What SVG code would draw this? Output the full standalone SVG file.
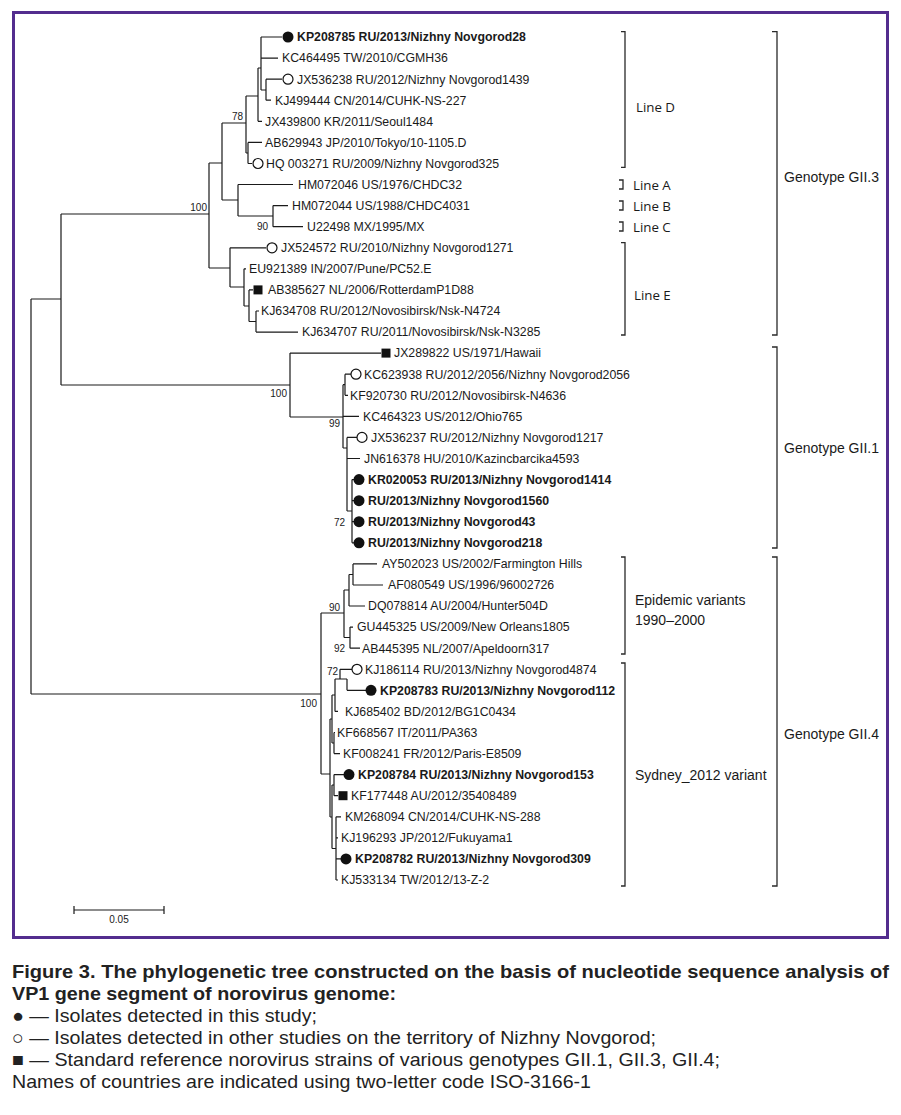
<svg xmlns="http://www.w3.org/2000/svg" width="901" height="1115" viewBox="0 0 901 1115">
<style>
.t{font-family:"Liberation Sans",Arial,sans-serif;font-size:12.3px;fill:#1a1a1a}
.b{font-weight:bold}
.bs{font-family:"Liberation Sans",Arial,sans-serif;font-size:10px;fill:#1a1a1a;text-anchor:end}
.ln{font-family:"Open Sans","Liberation Sans",sans-serif;font-size:13.3px;fill:#1a1a1a}
.gl{font-family:"Liberation Sans",Arial,sans-serif;font-size:14px;fill:#1a1a1a}
.tree{fill:none;stroke:#1a1a1a;stroke-width:1.2}
.br{fill:none;stroke:#2a2a2a;stroke-width:1.3}
.fc{fill:#111}
.oc{fill:#fff;stroke:#111;stroke-width:1.2}
.cap{font-family:"Liberation Sans Narrow","Liberation Sans",Arial,sans-serif;font-size:18.5px;fill:#222}
</style>
<rect x="0" y="0" width="901" height="1115" fill="#fff"/>
<rect id="frame" x="13.5" y="12.5" width="874" height="925" fill="none" stroke="#532d8e" stroke-width="3"/>

<g id="connectors">
<path class="tree" d="M31 299V694 M31 299H61 M31 694H321
M61 214V385 M61 214H209 M61 385H290
M209 163V268 M209 163H222 M209 268H230
M222 123V200 M222 123H246 M222 200H238
M246 96V153 M246 96H258 M246 153H248
M248 142.4V163.5 M248 142.4H262 M248 163.5H252
M258 68V121.3 M258 68H261 M258 121.3H262
M261 37V90 M261 37H282 M261 58.1H278 M261 90H266
M266 79.2V100.2 M266 79.2H282 M266 100.2H271
M238 184.5V216 M238 184.5H293 M238 216H273
M273 205.6V226.7 M273 205.6H288 M273 226.7H303
M230 247.8V287 M230 247.8H266 M230 287H244
M244 268.8V306 M244 268.8H246 M244 306H249
M249 289.9V321.5 M249 289.9H253 M249 321.5H256
M256 311V332.1 M256 311H259 M256 332.1H298
M290 353.1V417 M290 353.1H381 M290 417H343
M343 384.7V448 M343 384.7H345 M343 416.4H359 M343 448H347
M345 374.2V395.3 M345 374.2H351 M345 395.3H348
M347 437.4V511 M347 437.4H357 M347 458.5H360 M347 511H352
M352 479.6V542.8 M352 479.6H354 M352 500.7H354 M352 521.7H354 M352 542.8H354
M321 613V774 M321 613H344 M321 774H330
M344 590V637.5 M344 590H349 M344 637.5H350
M349 574.5V606 M349 574.5H353 M349 606H365
M353 563.9V585 M353 563.9H377 M353 585H383
M350 627.1V648.2 M350 627.1H353 M350 648.2H360
M330 719V817 M330 719H332 M330 817H332
M332 695V743 M332 695H335 M332 743H334
M335 679V711.4 M335 679H340 M335 711.4H338
M340 669.3V679 M340 669.3H352 M340 679H347 M347 679V690.3 M347 690.3H366
M334 732.5V753.6 M334 732.5H335 M334 753.6H340
M332 785V848.5 M332 785H334 M332 848.5H336
M334 774.6V795.7 M334 774.6H344 M334 795.7H338
M336 816.8V880 M336 816.8H341 M336 837.9H338 M336 858.9H341 M336 880H338"/>
</g>

<g id="bootstrap">
<text class="bs" x="207" y="211">100</text>
<text class="bs" x="243" y="120">78</text>
<text class="bs" x="268" y="230">90</text>
<text class="bs" x="287" y="397">100</text>
<text class="bs" x="340" y="427">99</text>
<text class="bs" x="345" y="526">72</text>
<text class="bs" x="340" y="611">90</text>
<text class="bs" x="345" y="652">92</text>
<text class="bs" x="338" y="675">72</text>
<text class="bs" x="317" y="707">100</text>
</g>

<g id="leaf01"><circle class="fc" cx="288" cy="37" r="5.5"/><text class="t b" x="297" y="41.3">KP208785 RU/2013/Nizhny Novgorod28</text></g>
<g id="leaf02"><text class="t" x="282" y="62.4">KC464495 TW/2010/CGMH36</text></g>
<g id="leaf03"><circle class="oc" cx="288" cy="79.2" r="5"/><text class="t" x="297" y="83.5">JX536238 RU/2012/Nizhny Novgorod1439</text></g>
<g id="leaf04"><text class="t" x="275" y="104.5">KJ499444 CN/2014/CUHK-NS-227</text></g>
<g id="leaf05"><text class="t" x="265" y="125.6">JX439800 KR/2011/Seoul1484</text></g>
<g id="leaf06"><text class="t" x="265" y="146.7">AB629943 JP/2010/Tokyo/10-1105.D</text></g>
<g id="leaf07"><circle class="oc" cx="258" cy="163.5" r="5"/><text class="t" x="266" y="167.8">HQ 003271 RU/2009/Nizhny Novgorod325</text></g>
<g id="leaf08"><text class="t" x="298" y="188.8">HM072046 US/1976/CHDC32</text></g>
<g id="leaf09"><text class="t" x="292" y="209.9">HM072044 US/1988/CHDC4031</text></g>
<g id="leaf10"><text class="t" x="307" y="231">U22498 MX/1995/MX</text></g>
<g id="leaf11"><circle class="oc" cx="272" cy="247.8" r="5"/><text class="t" x="281" y="252.1">JX524572 RU/2010/Nizhny Novgorod1271</text></g>
<g id="leaf12"><text class="t" x="249" y="273.1">EU921389 IN/2007/Pune/PC52.E</text></g>
<g id="leaf13"><rect class="fc" x="253.5" y="285.4" width="9" height="9"/><text class="t" x="268" y="294.2">AB385627 NL/2006/RotterdamP1D88</text></g>
<g id="leaf14"><text class="t" x="261" y="315.3">KJ634708 RU/2012/Novosibirsk/Nsk-N4724</text></g>
<g id="leaf15"><text class="t" x="302" y="336.4">KJ634707 RU/2011/Novosibirsk/Nsk-N3285</text></g>
<g id="leaf16"><rect class="fc" x="381.5" y="348.6" width="9" height="9"/><text class="t" x="394" y="357.4">JX289822 US/1971/Hawaii</text></g>
<g id="leaf17"><circle class="oc" cx="356" cy="374.2" r="5"/><text class="t" x="364" y="378.5">KC623938 RU/2012/2056/Nizhny Novgorod2056</text></g>
<g id="leaf18"><text class="t" x="350" y="399.6">KF920730 RU/2012/Novosibirsk-N4636</text></g>
<g id="leaf19"><text class="t" x="363" y="420.7">KC464323 US/2012/Ohio765</text></g>
<g id="leaf20"><circle class="oc" cx="362" cy="437.4" r="5"/><text class="t" x="371" y="441.7">JX536237 RU/2012/Nizhny Novgorod1217</text></g>
<g id="leaf21"><text class="t" x="364" y="462.8">JN616378 HU/2010/Kazincbarcika4593</text></g>
<g id="leaf22"><circle class="fc" cx="359" cy="479.6" r="5.5"/><text class="t b" x="368" y="483.9">KR020053 RU/2013/Nizhny Novgorod1414</text></g>
<g id="leaf23"><circle class="fc" cx="359" cy="500.7" r="5.5"/><text class="t b" x="368" y="505">RU/2013/Nizhny Novgorod1560</text></g>
<g id="leaf24"><circle class="fc" cx="359" cy="521.7" r="5.5"/><text class="t b" x="368" y="526">RU/2013/Nizhny Novgorod43</text></g>
<g id="leaf25"><circle class="fc" cx="359" cy="542.8" r="5.5"/><text class="t b" x="368" y="547.1">RU/2013/Nizhny Novgorod218</text></g>
<g id="leaf26"><text class="t" x="382" y="568.2">AY502023 US/2002/Farmington Hills</text></g>
<g id="leaf27"><text class="t" x="388" y="589.3">AF080549 US/1996/96002726</text></g>
<g id="leaf28"><text class="t" x="368" y="610.3">DQ078814 AU/2004/Hunter504D</text></g>
<g id="leaf29"><text class="t" x="357" y="631.4">GU445325 US/2009/New Orleans1805</text></g>
<g id="leaf30"><text class="t" x="362" y="652.5">AB445395 NL/2007/Apeldoorn317</text></g>
<g id="leaf31"><circle class="oc" cx="357" cy="669.3" r="5"/><text class="t" x="365" y="673.6">KJ186114 RU/2013/Nizhny Novgorod4874</text></g>
<g id="leaf32"><circle class="fc" cx="371" cy="690.3" r="5.5"/><text class="t b" x="380" y="694.6">KP208783 RU/2013/Nizhny Novgorod112</text></g>
<g id="leaf33"><text class="t" x="345" y="715.7">KJ685402 BD/2012/BG1C0434</text></g>
<g id="leaf34"><text class="t" x="337" y="736.8">KF668567 IT/2011/PA363</text></g>
<g id="leaf35"><text class="t" x="343" y="757.9">KF008241 FR/2012/Paris-E8509</text></g>
<g id="leaf36"><circle class="fc" cx="349" cy="774.6" r="5.5"/><text class="t b" x="358" y="778.9">KP208784 RU/2013/Nizhny Novgorod153</text></g>
<g id="leaf37"><rect class="fc" x="338.5" y="791.2" width="9" height="9"/><text class="t" x="351" y="800">KF177448 AU/2012/35408489</text></g>
<g id="leaf38"><text class="t" x="345" y="821.1">KM268094 CN/2014/CUHK-NS-288</text></g>
<g id="leaf39"><text class="t" x="341" y="842.2">KJ196293 JP/2012/Fukuyama1</text></g>
<g id="leaf40"><circle class="fc" cx="346" cy="858.9" r="5.5"/><text class="t b" x="355" y="863.2">KP208782 RU/2013/Nizhny Novgorod309</text></g>
<g id="leaf41"><text class="t" x="341" y="884.3">KJ533134 TW/2012/13-Z-2</text></g>

<g id="lineD"><path class="br" d="M621 31.7H625V167.3H621"/><text class="ln" x="636" y="112">Line D</text></g>
<g id="lineA"><path class="br" d="M619 180H623V189H619"/><text class="ln" x="633" y="189.5">Line A</text></g>
<g id="lineB"><path class="br" d="M619 201H623V210H619"/><text class="ln" x="633" y="210.5">Line B</text></g>
<g id="lineC"><path class="br" d="M619 222H623V231H619"/><text class="ln" x="633" y="231.5">Line C</text></g>
<g id="lineE"><path class="br" d="M621 242.7H625V335H621"/><text class="ln" x="634" y="300">Line E</text></g>
<g id="gii3"><path class="br" d="M772 31.7H777V335H772"/><text class="gl" x="784" y="182">Genotype GII.3</text></g>
<g id="gii1"><path class="br" d="M772 347H777V548H772"/><text class="gl" x="784" y="453">Genotype GII.1</text></g>
<g id="epidemic"><path class="br" d="M621 557H625V654H621"/><text class="gl" x="635" y="605">Epidemic variants</text><text class="gl" x="635" y="625">1990–2000</text></g>
<g id="sydney"><path class="br" d="M621 663H625V886H621"/><text class="gl" x="635" y="780">Sydney_2012 variant</text></g>
<g id="gii4"><path class="br" d="M772 557H777V886H772"/><text class="gl" x="784" y="739">Genotype GII.4</text></g>

<g id="scalebar"><path class="tree" d="M74 910H164 M74 906V914 M164 906V914"/><text class="bs" x="119" y="923" style="text-anchor:middle">0.05</text></g>

<g id="caption">
<text class="cap b" x="12" y="978" textLength="877" lengthAdjust="spacingAndGlyphs">Figure 3. The phylogenetic tree constructed on the basis of nucleotide sequence analysis of</text>
<text class="cap b" x="12" y="1000" textLength="384" lengthAdjust="spacingAndGlyphs">VP1 gene segment of norovirus genome:</text>
<text class="cap" x="12" y="1022" textLength="305" lengthAdjust="spacingAndGlyphs">● — Isolates detected in this study;</text>
<text class="cap" x="12" y="1044" textLength="644" lengthAdjust="spacingAndGlyphs">○ — Isolates detected in other studies on the territory of Nizhny Novgorod;</text>
<text class="cap" x="12" y="1066" textLength="708" lengthAdjust="spacingAndGlyphs">■ — Standard reference norovirus strains of various genotypes GII.1, GII.3, GII.4;</text>
<text class="cap" x="12" y="1088" textLength="579" lengthAdjust="spacingAndGlyphs">Names of countries are indicated using two-letter code ISO-3166-1</text>
</g>
</svg>
